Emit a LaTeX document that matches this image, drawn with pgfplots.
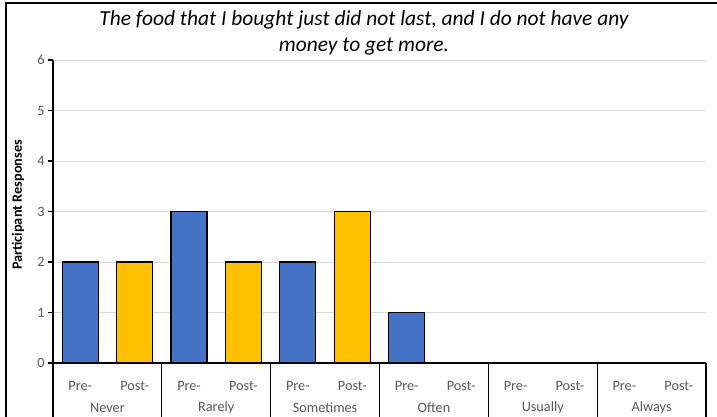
\documentclass[border=0pt]{standalone}
\usepackage{fontspec}
\setmainfont{Carlito}
\usepackage{pgfplots}
\pgfplotsset{compat=1.18}
\definecolor{preblue}{HTML}{4472C4}
\definecolor{postgold}{HTML}{FFC000}
\definecolor{ticktext}{HTML}{595959}
\definecolor{gridgray}{HTML}{D9D9D9}

\begin{document}
\begin{tikzpicture}[x=1bp,y=1bp]
\useasboundingbox (0,0) rectangle (717,416);
% chart frame
\draw[line width=2bp] (6,-20) -- (6,412.5) -- (740,412.5);
% title
\node[font=\fontsize{21.5}{26}\selectfont\itshape, align=center] at (364,383)
  {The food that I bought just did not last, and I do not have any\\money to get more.};
% y axis title
\node[rotate=90, font=\fontsize{14.3}{16}\selectfont\bfseries] at (18,211) {Participant Responses};
\begin{axis}[
  at={(53bp,53bp)}, anchor=south west,
  scale only axis, width=653bp, height=303bp,
  xmin=-0.5, xmax=11.5, ymin=0, ymax=6,
  ytick={0,...,6},
  xtick={0,...,11},
  xticklabels={Pre-,Post-,Pre-,Post-,Pre-,Post-,Pre-,Post-,Pre-,Post-,Pre-,Post-},
  axis lines=left, axis line style={-, line width=1.3bp, black},
  tick pos=left, tick align=outside,
  major tick length=5bp,
  ytick style={black, line width=1.3bp},
  xtick style={draw=none},
  ymajorgrids, grid style={gridgray, line width=1bp},
  /pgf/number format/assume math mode=true,
  ticklabel style={font=\fontsize{14.3}{16}\selectfont, text=ticktext},
  xticklabel style={anchor=center, yshift=-18bp},
  clip=false,
]
\addplot[ybar, bar width=36bp, bar shift=0pt, fill=preblue, draw=black, line width=1.2bp]
  coordinates {(0,2) (2,3) (4,2) (6,1) (8,0) (10,0)};
\addplot[ybar, bar width=36bp, bar shift=0pt, fill=postgold, draw=black, line width=1.2bp]
  coordinates {(1,2) (3,2) (5,3) (7,0) (9,0) (11,0)};
% group separators below the axis
\pgfplotsinvokeforeach{-0.5,1.5,3.5,5.5,7.5,9.5,11.5}{
  \draw[black, line width=1.2bp] (axis cs:#1,0) -- ([yshift=-70bp]axis cs:#1,0);
}
% group names
\tikzset{grp/.style={font=\fontsize{14.3}{16}\selectfont, text=ticktext}}
\node[grp] at ([yshift=-45bp]axis cs:0.5,0) {Never};
\node[grp] at ([yshift=-45bp]axis cs:2.5,0) {Rarely};
\node[grp] at ([yshift=-45bp]axis cs:4.5,0) {Sometimes};
\node[grp] at ([yshift=-45bp]axis cs:6.5,0) {Often};
\node[grp] at ([yshift=-45bp]axis cs:8.5,0) {Usually};
\node[grp] at ([yshift=-45bp]axis cs:10.5,0) {Always};
\end{axis}
\end{tikzpicture}
\end{document}
